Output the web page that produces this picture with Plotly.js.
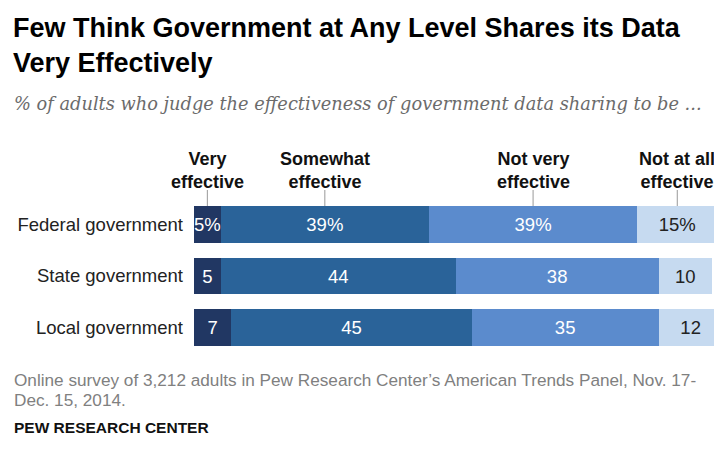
<!DOCTYPE html>
<html>
<head>
<meta charset="utf-8">
<script src="https://cdn.plot.ly/plotly-3.0.1.min.js"></script>
<style>html,body{margin:0;padding:0;background:#fff;overflow:hidden;width:714px;height:463px;}#wrap{width:714px;height:463px;overflow:hidden;}#chart{width:728px;height:463px;}</style>
</head>
<body>
<div id="wrap"><div id="chart"></div></div>
<script>
// ---- Data ----
const categories = ['Federal government', 'State government', 'Local government'];
const seriesNames = ['Very effective', 'Somewhat effective', 'Not very effective', 'Not at all effective'];
const headerLabels = ['Very<br>effective', 'Somewhat<br>effective', 'Not very<br>effective', 'Not at all<br>effective'];
const veryEffective = [5, 5, 7];
const somewhatEffective = [39, 44, 45];
const notVeryEffective = [39, 38, 35];
const notAtAllEffective = [15, 10, 12];

// ---- Style ----
const colors = ['#213763', '#2a6399', '#5b8bcd', '#c6daf0'];
const textColors = ['#ffffff', '#ffffff', '#ffffff', '#222222'];
const W = 728, H = 463;           // figure is slightly wider than the 714px view; the right edge is cropped like the original
const L = 194, R = 0, T = 199, B = 110;
const plotW = W - L - R, plotH = H - T - B;
const px = x => (x - L) / plotW;
const py = y => (H - B - y) / plotH;
const sans = 'Liberation Sans, Arial, sans-serif';

const allSeries = [veryEffective, somewhatEffective, notVeryEffective, notAtAllEffective];
const traces = allSeries.map((vals, i) => ({
  type: 'bar',
  orientation: 'h',
  name: seriesNames[i],
  y: categories,
  x: vals,
  text: vals.map((v, j) => j === 0 ? v + '%' : String(v)),
  textposition: 'inside',
  insidetextanchor: 'middle',
  textangle: 0,
  constraintext: 'none',
  textfont: {family: sans, size: 18.5, color: textColors[i]},
  marker: {color: colors[i], line: {width: 0}},
  hoverinfo: 'none',
  cliponaxis: false
}));

// column headers placed over the federal row's segment midpoints
const annotations = [];
const shapes = [];
let cum = 0;
allSeries.forEach((vals, i) => {
  const mid = cum + vals[0] / 2;
  cum += vals[0];
  annotations.push({
    xref: 'x', yref: 'paper', x: mid, y: py(170.5), xanchor: 'center', yanchor: 'middle',
    text: headerLabels[i], showarrow: false, align: 'center',
    font: {family: sans, size: 18, color: '#111', weight: 'bold'}
  });
  shapes.push({type: 'line', xref: 'x', yref: 'paper', x0: mid, x1: mid, y0: py(190), y1: py(206),
    line: {color: '#999', width: 1}});
});

annotations.push({
  xref: 'paper', yref: 'paper', x: px(12), y: py(103), xanchor: 'left', yanchor: 'middle',
  text: '% of adults who judge the effectiveness of government data sharing to be ...',
  showarrow: false, font: {family: 'DejaVu Serif, serif', size: 17.8, color: '#6b6b6b', style: 'italic'}
});
annotations.push({
  xref: 'paper', yref: 'paper', x: px(12), y: py(380), xanchor: 'left', yanchor: 'middle', align: 'left',
  text: 'Online survey of 3,212 adults in Pew Research Center’s American Trends Panel, Nov. 17-',
  showarrow: false, font: {family: sans, size: 17.2, color: '#808080'}
});
annotations.push({
  xref: 'paper', yref: 'paper', x: px(12), y: py(400), xanchor: 'left', yanchor: 'middle', align: 'left',
  text: 'Dec. 15, 2014.',
  showarrow: false, font: {family: sans, size: 17.2, color: '#808080'}
});
annotations.push({
  xref: 'paper', yref: 'paper', x: px(12), y: py(427), xanchor: 'left', yanchor: 'middle',
  text: 'PEW RESEARCH CENTER',
  showarrow: false, font: {family: sans, size: 15.5, color: '#111', weight: 'bold'}
});

const layout = {
  width: W, height: H,
  margin: {l: L, r: R, t: T, b: B, pad: 0},
  paper_bgcolor: '#fff', plot_bgcolor: '#fff',
  barmode: 'stack',
  bargap: 0.28,
  showlegend: false,
  title: {
    text: 'Few Think Government at Any Level Shares its Data<br>Very Effectively',
    xref: 'container', yref: 'container', x: 13 / W, xanchor: 'left', y: 1 - 37 / H, yanchor: 'top',
    font: {family: sans, size: 27, color: '#000', weight: 'bold'}
  },
  xaxis: {range: [0, 100], showgrid: false, zeroline: false, showticklabels: false, showline: false, fixedrange: true},
  yaxis: {autorange: 'reversed', showgrid: false, zeroline: false, showline: false, ticks: '',
    ticklabelstandoff: 10,
    tickfont: {family: sans, size: 18.5, color: '#222'}},
  annotations: annotations,
  shapes: shapes
};

Plotly.newPlot('chart', traces, layout, {displayModeBar: false, staticPlot: true});
</script>
</body>
</html>
